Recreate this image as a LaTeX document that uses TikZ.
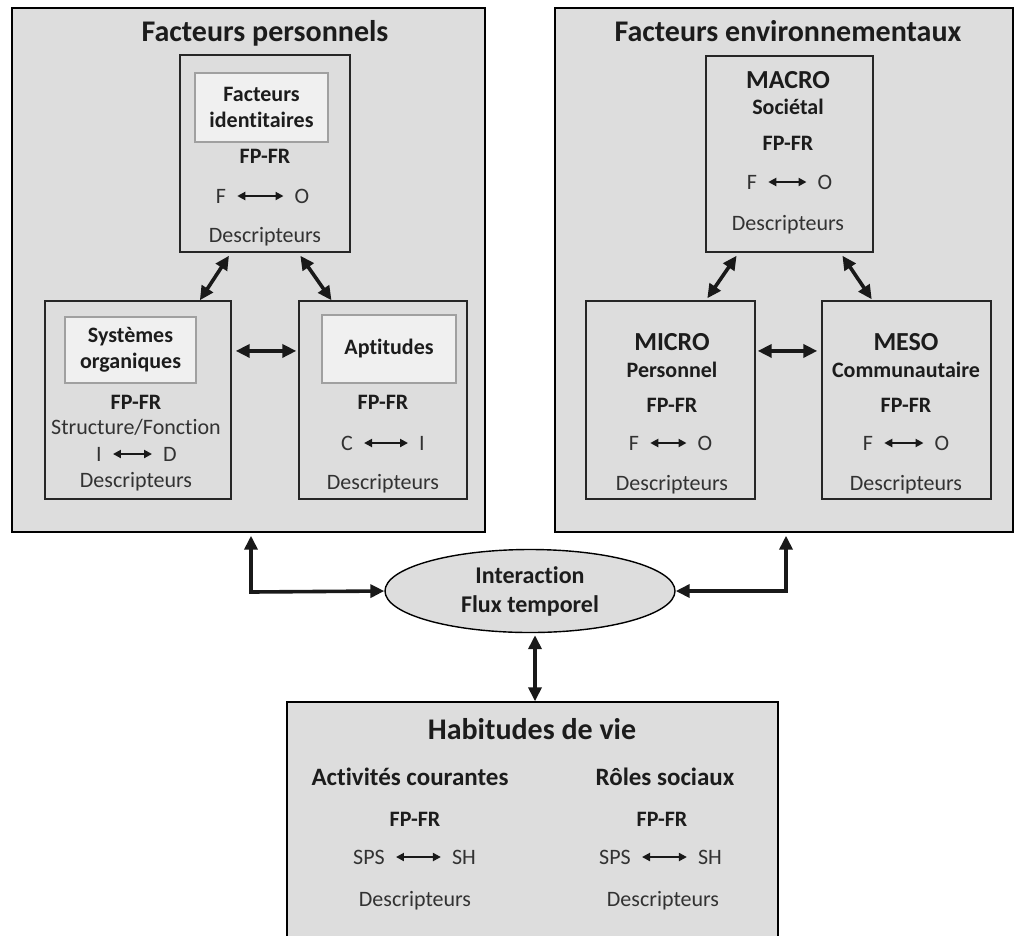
\documentclass[tikz,border=0pt]{standalone}
\usepackage{fontspec}
\setmainfont{Carlito}[Ligatures=NoCommon]
\usetikzlibrary{arrows.meta,shapes.geometric,calc}
\definecolor{boxgray}{RGB}{221,221,221}
\definecolor{litegray}{RGB}{240,240,240}
\definecolor{liteedge}{RGB}{160,160,160}
\definecolor{txt}{RGB}{28,28,28}
\definecolor{txtlight}{RGB}{50,50,50}
\begin{document}
\begin{tikzpicture}[x=1pt,y=-1pt,
  big/.style={draw=black,line width=1.4pt,fill=boxgray,rectangle,inner sep=0pt},
  sub/.style={draw=black!85,line width=1.4pt,fill=boxgray,rectangle,inner sep=0pt},
  lite/.style={draw=liteedge,line width=1.2pt,fill=litegray,rectangle,inner sep=0pt,align=center,text=txt,font=\fontsize{22}{26}\selectfont\bfseries},
  lbl/.style={inner sep=0pt,text=txtlight,text height=14pt,text depth=0pt,font=\fontsize{22}{26}\selectfont},
  blbl/.style={inner sep=0pt,text=txt,text height=14pt,text depth=0pt,font=\fontsize{22}{26}\selectfont\bfseries},
  mlbl/.style={inner sep=0pt,text=txt,text height=17pt,text depth=0pt,font=\fontsize{26}{30}\selectfont\bfseries},
  hlbl/.style={inner sep=0pt,text=txt,text height=16pt,text depth=0pt,font=\fontsize{25}{30}\selectfont\bfseries},
  title/.style={inner sep=0pt,text=txt,text height=19pt,text depth=0pt,font=\fontsize{30}{36}\selectfont\bfseries},
  conn/.style={{Triangle[length=14pt,width=13pt]}-{Triangle[length=14pt,width=13pt]},line width=3.6pt,draw=black!90},
  sm/.style={{Triangle[length=8pt,width=8pt]}-{Triangle[length=8pt,width=8pt]},line width=2pt,draw=black!90,shorten <=11pt,shorten >=11pt}
]
\useasboundingbox (0,0) rectangle (1016,935);
\fill[white] (0,0) rectangle (1016,935);

% ---------- big boxes ----------
\node[big,minimum width=473pt,minimum height=524pt] (perso) at (248.5,270) {};
\node[big,minimum width=458pt,minimum height=524pt] (env) at (784,270) {};
\node[big,minimum width=491pt,minimum height=250pt] (habit) at (532.5,827) {};

% ---------- facteurs personnels ----------
\node[title] (tperso) at (265,32) {Facteurs personnels};
\node[sub,minimum width=170pt,minimum height=197pt] (ident) at (265,153.5) {};
\node[sub,minimum width=186pt,minimum height=198pt] (sys) at (138,400) {};
\node[sub,minimum width=168pt,minimum height=198pt] (apt) at (383,400) {};

\node[lite,minimum width=133pt,minimum height=69pt] (identlite) at (261.5,107.5) {Facteurs\\identitaires};
\node[blbl] (fp1) at (265,156) {FP-FR};
\node[lbl] (f1) at (221,196) {F};
\node[lbl] (o1) at (302,196) {O};
\draw[sm] (f1) -- (o1);
\node[lbl] (d1) at (265,235) {Descripteurs};

\node[lite,minimum width=131pt,minimum height=66pt] (syslite) at (130.5,350) {Systèmes\\organiques};
\node[blbl] (fp2) at (136,402) {FP-FR};
\node[lbl] (sf2) at (136,427) {Structure/Fonction};
\node[lbl] (i2) at (99,454) {I};
\node[lbl] (dd2) at (170,454) {D};
\draw[sm] (i2) -- (dd2);
\node[lbl] (d2) at (136,480) {Descripteurs};

\node[lite,minimum width=134pt,minimum height=68pt] (aptlite) at (389,349) {Aptitudes};
\node[blbl] (fp3) at (383,402) {FP-FR};
\node[lbl] (c3) at (347,443) {C};
\node[lbl] (i3) at (422,443) {I};
\draw[sm] (c3) -- (i3);
\node[lbl] (d3) at (383,482) {Descripteurs};

\draw[conn] ($(ident.south west)!0.29!(ident.south east)+(0,3)$) -- ($(sys.north west)!0.83!(sys.north east)$);
\draw[conn] ($(ident.south west)!0.706!(ident.south east)+(0,3)$) -- ($(apt.north west)!0.196!(apt.north east)$);
\coordinate (hl) at ($(sys.north east)!0.254!(sys.south east)+(4,0)$);
\draw[conn] (hl) -- ($(hl -| apt.west)+(-2,0)$);

% ---------- facteurs environnementaux ----------
\node[title] (tenv) at (788,32) {Facteurs environnementaux};
\node[sub,minimum width=167pt,minimum height=196pt] (macro) at (789.5,154) {};
\node[sub,minimum width=169pt,minimum height=198pt] (micro) at (670.5,400) {};
\node[sub,minimum width=169pt,minimum height=198pt] (meso) at (906.5,400) {};

\node[mlbl] (mac) at (788,80) {MACRO};
\node[blbl] (soc) at (788,107) {Sociétal};
\node[blbl] (fp4) at (788,143) {FP-FR};
\node[lbl] (f4) at (752,182) {F};
\node[lbl] (o4) at (825,182) {O};
\draw[sm] (f4) -- (o4);
\node[lbl] (d4) at (788,223) {Descripteurs};

\node[mlbl] (mic) at (672,342) {MICRO};
\node[blbl] (pers) at (672,370) {Personnel};
\node[blbl] (fp5) at (672,405) {FP-FR};
\node[lbl] (f5) at (634,443) {F};
\node[lbl] (o5) at (705,443) {O};
\draw[sm] (f5) -- (o5);
\node[lbl] (d5) at (672,483) {Descripteurs};

\node[mlbl] (mes) at (906,342) {MESO};
\node[blbl] (comm) at (906,370) {Communautaire};
\node[blbl] (fp6) at (906,405) {FP-FR};
\node[lbl] (f6) at (868,443) {F};
\node[lbl] (o6) at (942,443) {O};
\draw[sm] (f6) -- (o6);
\node[lbl] (d6) at (906,483) {Descripteurs};

\draw[conn] ($(macro.south west)!0.186!(macro.south east)+(0,3)$) -- ($(micro.north west)!0.716!(micro.north east)+(0,-2)$);
\draw[conn] ($(macro.south west)!0.814!(macro.south east)+(0,3)$) -- ($(meso.north west)!0.296!(meso.north east)+(0,-1)$);
\coordinate (hr) at ($(micro.north east)!0.254!(micro.south east)+(2,0)$);
\draw[conn] (hr) -- ($(hr -| meso.west)+(-4,0)$);

% ---------- interaction ----------
\node[ellipse,draw=black,line width=1.4pt,fill=boxgray,minimum width=290pt,minimum height=83pt,inner sep=0pt,align=center,text=txt,font=\fontsize{24}{29}\selectfont\bfseries] (inter) at (530,591) {Interaction\\Flux temporel};

\coordinate (lc) at (251,592);
\coordinate (rc) at (786,591);
\coordinate (vc) at (535,660);
\draw[conn] ($(lc |- perso.south)+(0,3)$) -- (lc) -- (inter.west);
\draw[conn] ($(rc |- env.south)+(0,3)$) -- (rc) -- (inter.east);
\draw[conn] ($(vc |- inter.south)+(0,2)$) -- (vc |- habit.north);

% ---------- habitudes de vie ----------
\node[title] (thab) at (532,730) {Habitudes de vie};
\node[hlbl] (act) at (410,777) {Activités courantes};
\node[hlbl] (rol) at (665,777) {Rôles sociaux};
\node[blbl] (fp7) at (415,819) {FP-FR};
\node[blbl] (fp8) at (662,819) {FP-FR};
\node[lbl] (sps7) at (369,857) {SPS};
\node[lbl] (sh7) at (464,857) {SH};
\draw[sm] (sps7) -- (sh7);
\node[lbl] (sps8) at (615,857) {SPS};
\node[lbl] (sh8) at (710,857) {SH};
\draw[sm] (sps8) -- (sh8);
\node[lbl] (d7) at (415,899) {Descripteurs};
\node[lbl] (d8) at (663,899) {Descripteurs};
\end{tikzpicture}
\end{document}
